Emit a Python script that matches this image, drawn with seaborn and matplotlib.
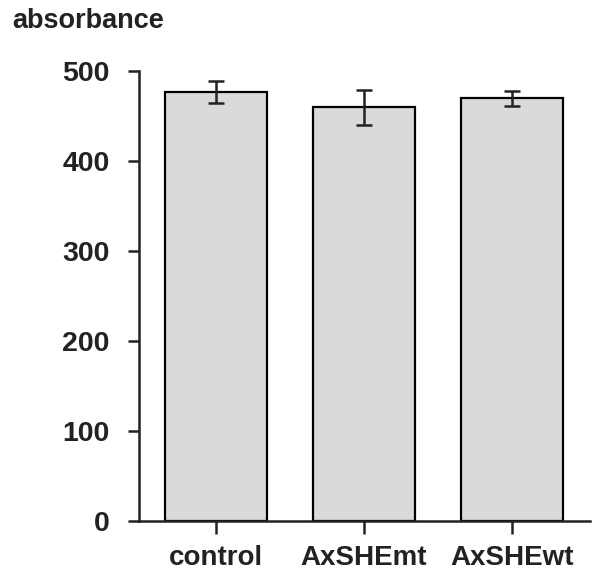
import numpy as np
import seaborn as sns
import matplotlib.pyplot as plt

# Values
groups = ['control', 'AxSHEmt', 'AxSHEwt']
means = [477, 460, 470]
errors = [12, 19.5, 8.5]
yticks = [0, 100, 200, 300, 400, 500]

sns.set_style('ticks')
plt.rcParams['font.family'] = ['Liberation Sans', 'DejaVu Sans']
plt.rcParams['font.weight'] = 'bold'

fig = plt.figure(figsize=(5.92, 5.73), dpi=100)
ax = fig.add_axes([0.2348, 0.0908, 0.762, 0.785])

sns.barplot(x=groups, y=means, color='#dadada', edgecolor='black', linewidth=1.6,
            width=0.69, errorbar=None, saturation=1, ax=ax)
ax.errorbar(np.arange(len(groups)), means, yerr=errors, fmt='none',
            ecolor='#222222', elinewidth=1.8, capsize=5.8, capthick=1.8)

ax.set_ylim(0, 500)
ax.set_xlim(-0.52, 2.53)
ax.set_yticks(yticks)
ax.set_xlabel('')
ax.set_ylabel('')

sns.despine(ax=ax)
for side in ['left', 'bottom']:
    ax.spines[side].set_linewidth(1.8)
    ax.spines[side].set_color('#222222')

ax.tick_params(axis='y', length=8, width=1.8, pad=13, labelsize=20.5, colors='#222222')
ax.tick_params(axis='x', length=9, width=1.8, pad=8, labelsize=20, colors='#222222')
for lab in ax.get_xticklabels() + ax.get_yticklabels():
    lab.set_fontweight('bold')

fig.text(0.02, 1 - 28 / 573, 'absorbance', fontsize=19.5, fontweight='bold',
         va='baseline', ha='left', color='#222222')

plt.savefig('out.png', dpi=100)
